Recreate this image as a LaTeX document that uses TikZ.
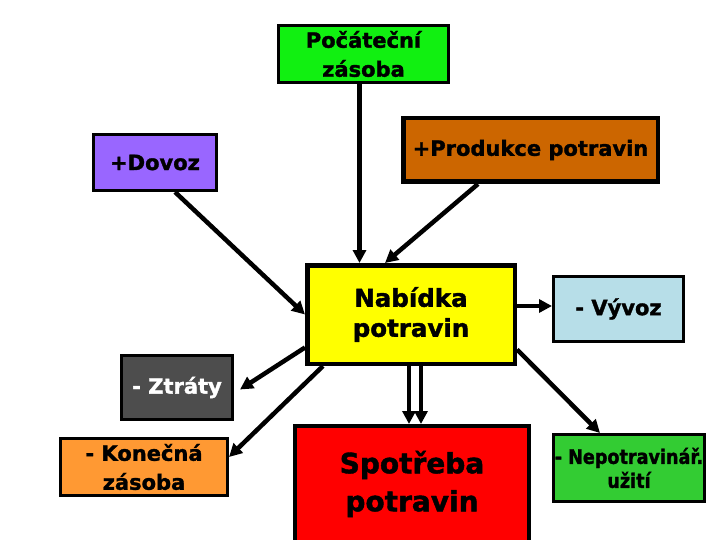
\documentclass[tikz,border=0pt]{standalone}
\usepackage{fontspec}
\setmainfont{DejaVu Sans}[BoldFeatures={FakeBold=1.5}]
\newfontfamily\narrowfont{DejaVu Sans}[FakeStretch=0.88,BoldFeatures={FakeBold=1.5,FakeStretch=0.88}]
\usetikzlibrary{arrows.meta}
\definecolor{cpoc}{HTML}{11F011}
\definecolor{cdovoz}{HTML}{9966FF}
\definecolor{cprod}{HTML}{CC6600}
\definecolor{cnab}{HTML}{FFFF00}
\definecolor{cvyvoz}{HTML}{B7DEE8}
\definecolor{cztraty}{HTML}{4D4D4D}
\definecolor{ckon}{HTML}{FF9933}
\definecolor{cspot}{HTML}{FF0000}
\definecolor{cnepo}{HTML}{33CC33}
\begin{document}
\begin{tikzpicture}[x=1pt,y=-1pt,
  box/.style={draw=black, line width=3pt, rectangle, inner sep=0pt, align=center,
    font=\bfseries\fontsize{21}{29}\selectfont},
  arr/.style={draw=black, line width=4.5pt, -{Triangle[length=13pt,width=13pt]}}]
\clip (0,0) rectangle (720,540);
\fill[white] (0,0) rectangle (720,540);

\node[box, fill=cpoc, minimum width=170pt, minimum height=57pt] (poc) at (363.5,54) {Počáteční\\zásoba};
\node[box, fill=cdovoz, minimum width=123pt, minimum height=56pt] (dovoz) at (155,162.5) {+Dovoz};
\node[box, fill=cprod, line width=4.5pt, minimum width=254.5pt, minimum height=63.5pt] (prod) at (530.5,150) {+Produkce potravin};
\node[box, fill=cnab, line width=4.5pt, minimum width=207.5pt, minimum height=98.5pt,
  font=\bfseries\fontsize{24.5}{30}\selectfont] (nab) at (411,314.5) {Nabídka\\potravin};
\node[box, fill=cvyvoz, minimum width=130pt, minimum height=65pt] (vyvoz) at (618.5,309) {- Vývoz};
\node[box, fill=cztraty, text=white, minimum width=111pt, minimum height=64pt] (ztraty) at (177,387.5) {- Ztráty};
\node[box, fill=ckon, minimum width=167pt, minimum height=57pt] (kon) at (144,467) {- Konečná\\zásoba};
\node[box, fill=cspot, line width=4pt, minimum width=234pt, minimum height=116pt,
  font=\bfseries\fontsize{28}{38}\selectfont] (spot) at (412,484) {Spotřeba\\potravin};
\node[box, fill=cnepo, minimum width=151pt, minimum height=67pt,
  font=\narrowfont\bfseries\fontsize{20}{24}\selectfont] (nepo) at (629,468) {- Nepotravinář.\\užití};

\coordinate (pocS) at ([xshift=-4pt]poc.south);
\draw[arr] (pocS) -- (pocS |- nab.north);
\draw[arr] ([xshift=-52.5pt]prod.south) -- ([xshift=-26pt]nab.north);
\draw[arr] ([xshift=20pt]dovoz.south) -- (nab.west);
\coordinate (nabE) at ([yshift=8.5pt]nab.east);
\draw[arr] (nabE) -- (nabE -| vyvoz.west);
\draw[arr] ([yshift=-33pt]nab.west) -- ([xshift=6pt,yshift=-2pt]ztraty.east);
\draw[arr] ([xshift=18pt]nab.south west) -- ([yshift=10pt]kon.east);
\coordinate (nabS1) at ([xshift=-2pt]nab.south);
\coordinate (nabS2) at ([xshift=10pt]nab.south);
\draw[arr] (nabS1) -- (nabS1 |- spot.north);
\draw[arr] (nabS2) -- (nabS2 |- spot.north);
\draw[arr] ([yshift=-35pt]nab.east) -- ([xshift=-29pt]nepo.north);
\end{tikzpicture}
\end{document}
